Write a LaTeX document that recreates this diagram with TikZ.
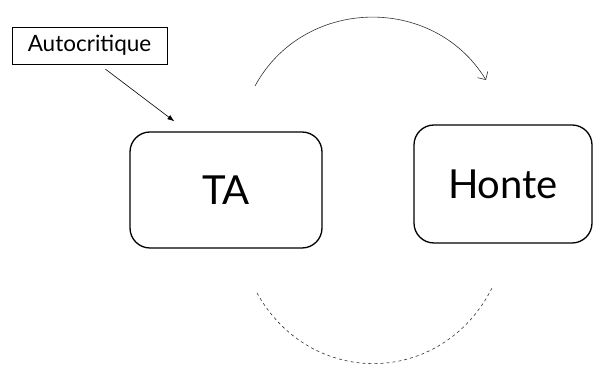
\documentclass[tikz,border=0pt]{standalone}
\usepackage{fontspec}
\setmainfont{Lato}
\usetikzlibrary{arrows.meta,positioning}

\begin{document}
\begin{tikzpicture}[x=1pt, y=1pt, >={Latex[length=7pt,width=5pt]}]

% state style
\tikzstyle{st} = [
    draw,
    line width=1.3pt,
    rectangle,
    rounded corners=20pt,
    font=\fontsize{40}{44}\selectfont
]

% label style
\tikzstyle{lbl} = [
    draw,
    rectangle,
    font=\fontsize{22.5}{24}\selectfont
]

\useasboundingbox (0,0) rectangle (595,366);

% Place the nodes.
\node [st, minimum width=192pt, minimum height=116pt] (ta) at (226,176) {TA};
\node [st, minimum width=178pt, minimum height=118pt] (honte) at (503,182) {Honte};
\node [lbl, minimum width=155pt, minimum height=37pt, inner sep=2pt] (autocrit) at (89.5,320.5) {Autocritique};

% Ends of the loops.
\coordinate (top-a) at (255,280);
\coordinate (top-b) at (486,286);
\coordinate (bot-a) at (257,73);
\coordinate (bot-b) at (492,78);

% Connect the nodes.
\draw [->, semithick] ([xshift=16pt, yshift=-5pt]autocrit.south) -- ([xshift=45pt, yshift=10pt]ta.north west);
\draw [-{Straight Barb[length=6pt]}, semithick, black!80] (top-a) to [bend left=60, looseness=1.12] (top-b);
\draw [dashed, semithick, black!80] (bot-a) to [bend right=62, looseness=1.2] (bot-b);

\end{tikzpicture}
\end{document}
